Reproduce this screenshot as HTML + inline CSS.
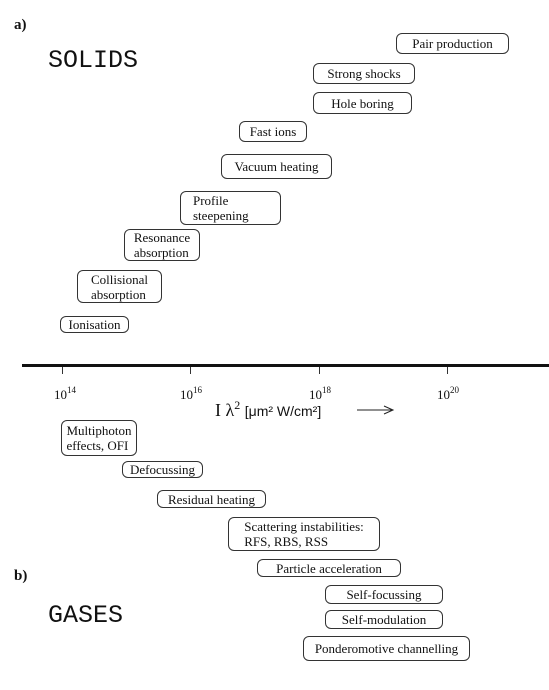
<!DOCTYPE html><html><head><style>
body{margin:0;width:549px;height:690px;background:#fff;position:relative;font-family:"Liberation Serif",serif;color:#111;overflow:hidden}
.b{position:absolute;border:1px solid #333;border-radius:6px;box-sizing:border-box;font-size:13px;line-height:15px;padding:0 0 0 10px;display:flex;flex-direction:column;justify-content:center;white-space:nowrap}
.c{align-items:center;padding:0;text-align:left}
.t{position:absolute;white-space:nowrap}
.m{font-family:"Liberation Mono",monospace;font-size:25px}
.tick{position:absolute;top:367px;width:1px;height:7px;background:#333}
.lab{position:absolute;top:385px;font-size:13px}
.lab sup{font-size:9px;vertical-align:6px}
</style></head><body>
<div class="t" style="left:14px;top:17px;font-weight:bold;font-size:15px">a)</div>
<div class="t m" style="left:48px;top:46px">SOLIDS</div>
<div class="t" style="left:14px;top:568px;font-weight:bold;font-size:15px">b)</div>
<div class="t m" style="left:48px;top:601px">GASES</div>

<div class="b c" style="left:396px;top:33px;width:113px;height:21px">Pair production</div>
<div class="b c" style="left:313px;top:63px;width:102px;height:21px">Strong shocks</div>
<div class="b c" style="left:313px;top:92px;width:99px;height:22px">Hole boring</div>
<div class="b c" style="left:239px;top:121px;width:68px;height:21px">Fast ions</div>
<div class="b c" style="left:221px;top:154px;width:111px;height:25px">Vacuum heating</div>
<div class="b" style="left:180px;top:191px;width:101px;height:34px;padding-left:12px">Profile<br>steepening</div>
<div class="b c" style="left:124px;top:229px;width:76px;height:32px">Resonance<br>absorption</div>
<div class="b c" style="left:77px;top:270px;width:85px;height:33px">Collisional<br>absorption</div>
<div class="b c" style="left:60px;top:316px;width:69px;height:17px">Ionisation</div>

<div style="position:absolute;left:22px;top:364px;width:527px;height:3px;background:#111"></div>
<div class="tick" style="left:62px"></div><div class="tick" style="left:190px"></div>
<div class="tick" style="left:319px"></div><div class="tick" style="left:447px"></div>
<div class="lab" style="left:54px">10<sup>14</sup></div>
<div class="lab" style="left:180px">10<sup>16</sup></div>
<div class="lab" style="left:309px">10<sup>18</sup></div>
<div class="lab" style="left:437px">10<sup>20</sup></div>
<div class="t" style="left:215px;top:398px;font-size:18px">I λ<sup style="font-size:12px">2</sup> <span style="font-family:'Liberation Sans',sans-serif;font-size:14px">[μm² W/cm²]</span></div>
<svg style="position:absolute;left:356px;top:404px" width="40" height="12"><line x1="1" y1="6" x2="36" y2="6" stroke="#222" stroke-width="1"/><path d="M28 2 L37 6 L28 10" fill="none" stroke="#222"/></svg>

<div class="b c" style="left:61px;top:420px;width:76px;height:36px">Multiphoton<br>effects, OFI</div>
<div class="b c" style="left:122px;top:461px;width:81px;height:17px">Defocussing</div>
<div class="b c" style="left:157px;top:490px;width:109px;height:18px">Residual heating</div>
<div class="b c" style="left:228px;top:517px;width:152px;height:34px">Scattering instabilities:<br>RFS, RBS, RSS</div>
<div class="b c" style="left:257px;top:559px;width:144px;height:18px">Particle acceleration</div>
<div class="b c" style="left:325px;top:585px;width:118px;height:19px">Self-focussing</div>
<div class="b c" style="left:325px;top:610px;width:118px;height:19px">Self-modulation</div>
<div class="b c" style="left:303px;top:636px;width:167px;height:25px">Ponderomotive channelling</div>
</body></html>
